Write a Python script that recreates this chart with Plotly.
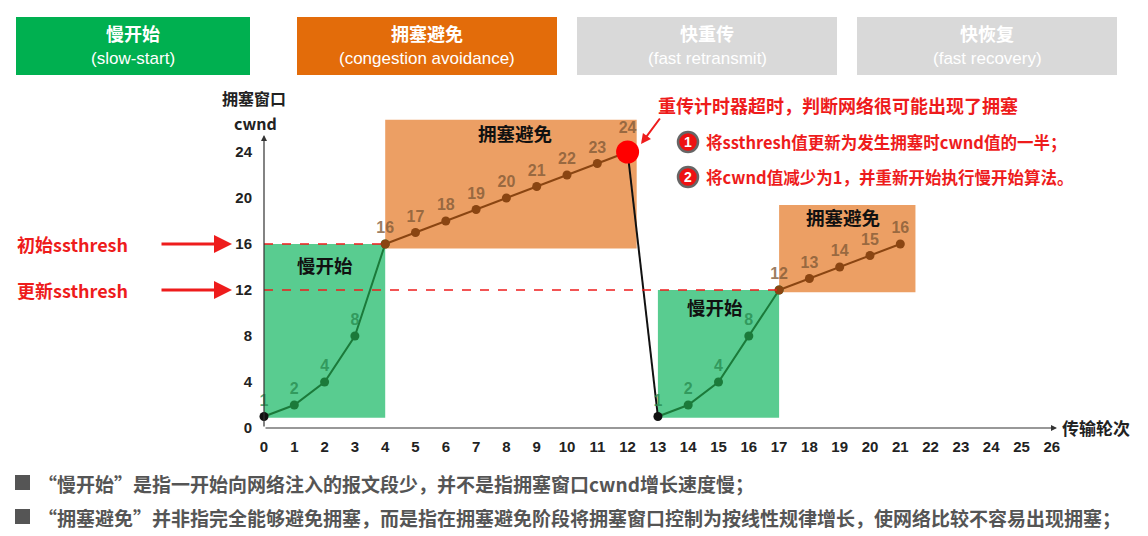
import plotly.graph_objects as go

# transmission rounds / cwnd values for each phase
rounds_ss1 = [0, 1, 2, 3, 4]
cwnd_ss1 = [1, 2, 4, 8, 16]
rounds_ca1 = [4, 5, 6, 7, 8, 9, 10, 11, 12]
cwnd_ca1 = [16, 17, 18, 19, 20, 21, 22, 23, 24]
rounds_ss2 = [13, 14, 15, 16, 17]
cwnd_ss2 = [1, 2, 4, 8, 12]
rounds_ca2 = [17, 18, 19, 20, 21]
cwnd_ca2 = [12, 13, 14, 15, 16]
ssthresh_init = 16
ssthresh_new = 12
x_ticks = list(range(27))
y_ticks = [0, 4, 8, 12, 16, 20, 24]

W, H = 1148, 536
X0, Y0 = 264, 428      # pixel of origin
SX, SY = 30.3, 11.5    # pixels per unit


def dx(p):
    return (p - X0) / SX


def dy(p):
    return (Y0 - p) / SY


CJK = "Noto Sans CJK SC"
NARROW = "Liberation Sans Narrow, Liberation Sans, Arial"
GREEN_BOX = "rgba(60,195,125,0.85)"
ORANGE_BOX = "rgba(233,146,78,0.88)"
GREEN_LINE = "#1b7a3a"
BROWN_LINE = "#8a4512"

fig = go.Figure()

# phase rectangles
fig.add_shape(type="rect", x0=rounds_ss1[0], x1=rounds_ss1[-1], y0=cwnd_ss1[0] - 0.1, y1=cwnd_ss1[-1],
              fillcolor=GREEN_BOX, line_width=0, layer="below")
fig.add_shape(type="rect", x0=rounds_ca1[0], x1=rounds_ca1[-1] + 0.3, y0=cwnd_ca1[0] - 0.4, y1=cwnd_ca1[-1] + 2.8,
              fillcolor=ORANGE_BOX, line_width=0, layer="below")
fig.add_shape(type="rect", x0=rounds_ss2[0], x1=rounds_ss2[-1], y0=cwnd_ss2[0] - 0.1, y1=cwnd_ss2[-1],
              fillcolor=GREEN_BOX, line_width=0, layer="below")
fig.add_shape(type="rect", x0=rounds_ca2[0], x1=rounds_ca2[-1] + 0.5, y0=cwnd_ca2[0] - 0.2, y1=cwnd_ca2[-1] + 3.4,
              fillcolor=ORANGE_BOX, line_width=0, layer="below")

# ssthresh dashed lines
fig.add_shape(type="line", x0=0, x1=rounds_ss1[-1], y0=ssthresh_init, y1=ssthresh_init,
              line=dict(color="#ee1c1c", width=1.5, dash="dash"))
fig.add_shape(type="line", x0=0, x1=rounds_ss2[-1], y0=ssthresh_new, y1=ssthresh_new,
              line=dict(color="#ee1c1c", width=1.5, dash="dash"))

lbl_green = dict(family=NARROW, size=16, color="rgba(40,140,80,0.8)", weight="bold")
lbl_brown = dict(family=NARROW, size=16, color="rgba(130,90,55,0.8)", weight="bold")

fig.add_trace(go.Scatter(
    x=rounds_ss1, y=cwnd_ss1, mode="lines+markers+text",
    text=[str(v) for v in cwnd_ss1[:-1]] + [""], textposition="top center", textfont=lbl_green,
    line=dict(color=GREEN_LINE, width=2),
    marker=dict(size=9, color=["#111"] + [GREEN_LINE] * 4), cliponaxis=False))
fig.add_trace(go.Scatter(
    x=rounds_ca1, y=cwnd_ca1, mode="lines+markers+text",
    text=[str(v) for v in cwnd_ca1[:-1]] + [""], textposition="top center", textfont=lbl_brown,
    line=dict(color=BROWN_LINE, width=2),
    marker=dict(size=9, color=BROWN_LINE), cliponaxis=False))
fig.add_trace(go.Scatter(
    x=[rounds_ca1[-1], rounds_ss2[0]], y=[cwnd_ca1[-1], cwnd_ss2[0]], mode="lines",
    line=dict(color="#111", width=2)))
fig.add_trace(go.Scatter(
    x=rounds_ss2, y=cwnd_ss2, mode="lines+markers+text",
    text=[str(v) for v in cwnd_ss2[:-1]] + [""], textposition="top center", textfont=lbl_green,
    line=dict(color=GREEN_LINE, width=2),
    marker=dict(size=9, color=["#111"] + [GREEN_LINE] * 4), cliponaxis=False))
fig.add_trace(go.Scatter(
    x=rounds_ca2, y=cwnd_ca2, mode="lines+markers+text",
    text=[str(v) for v in cwnd_ca2], textposition="top center", textfont=lbl_brown,
    line=dict(color=BROWN_LINE, width=2),
    marker=dict(size=9, color=BROWN_LINE), cliponaxis=False))
fig.add_trace(go.Scatter(
    x=[rounds_ca1[-1]], y=[cwnd_ca1[-1]], mode="markers+text",
    text=[str(cwnd_ca1[-1])], textposition="top center", textfont=lbl_brown,
    marker=dict(size=23, color="#ff0000"), cliponaxis=False))

ann = []

# axis arrows and titles
ann.append(dict(x=0, y=dy(135), ax=0, ay=0, axref="x", ayref="y", showarrow=True,
                arrowhead=2, arrowsize=1, arrowwidth=1.2, arrowcolor="#333", text=""))
ann.append(dict(x=dx(1057), y=0, ax=0, ay=0, axref="x", ayref="y", showarrow=True,
                arrowhead=2, arrowsize=1, arrowwidth=1.2, arrowcolor="#333", text=""))
ann.append(dict(x=dx(254), y=dy(98), text="拥塞窗口", showarrow=False,
                font=dict(family=CJK, size=16, color="#222", weight="bold")))
ann.append(dict(x=dx(255), y=dy(123), text="cwnd", showarrow=False,
                font=dict(family=CJK, size=16, color="#222", weight="bold")))
ann.append(dict(x=dx(1060), y=dy(427), text="传输轮次", showarrow=False, xanchor="left",
                font=dict(family=CJK, size=17, color="#222", weight="bold")))

# phase labels inside rectangles
for px_, py_, t in [(325, 265, "慢开始"), (515, 133, "拥塞避免"), (715, 307, "慢开始"), (843, 217, "拥塞避免")]:
    ann.append(dict(x=dx(px_), y=dy(py_), text=t, showarrow=False,
                    font=dict(family=CJK, size=18.5, color="#111", weight="bold")))

# ssthresh labels with arrows
red_font = dict(family=CJK, size=18, color="#ee1c1c", weight="bold")
for val, t in [(ssthresh_init, "初始ssthresh"), (ssthresh_new, "更新ssthresh")]:
    ann.append(dict(x=dx(72), y=val, text=t, showarrow=False, font=red_font))
    ann.append(dict(x=dx(232), y=val, ax=dx(160), ay=val, axref="x", ayref="y", text="",
                    showarrow=True, arrowhead=2, arrowsize=1.2, arrowwidth=3, arrowcolor="#ee1c1c"))

# timeout notes
ann.append(dict(x=dx(656), y=dy(105), text="重传计时器超时，判断网络很可能出现了拥塞", showarrow=False,
                xanchor="left", font=dict(family=CJK, size=18, color="#ee1c1c", weight="bold")))
ann.append(dict(x=dx(641), y=dy(144), ax=dx(661), ay=dy(117), axref="x", ayref="y", text="",
                showarrow=True, arrowhead=2, arrowsize=1, arrowwidth=2, arrowcolor="#ee1c1c"))
for py_, num, t in [(142, "1", "将ssthresh值更新为发生拥塞时cwnd值的一半；"),
                    (177, "2", "将cwnd值减少为1，并重新开始执行慢开始算法。")]:
    fig.add_shape(type="circle", xsizemode="pixel", ysizemode="pixel", xanchor=dx(688), yanchor=dy(py_),
                  x0=-10, x1=10, y0=-10, y1=10, fillcolor="#ee1111", line=dict(color="#666", width=2.5))
    ann.append(dict(x=dx(688), y=dy(py_), text=num, showarrow=False,
                    font=dict(family="Liberation Sans", size=14, color="white", weight="bold")))
    ann.append(dict(x=dx(704), y=dy(py_), text=t, showarrow=False, xanchor="left",
                    font=dict(family=CJK, size=16.5, color="#ee1c1c", weight="bold")))

# bottom notes
grey_font = dict(family=CJK, size=19, color="#555", weight="bold")
for py_, t in [(483, "“慢开始”是指一开始向网络注入的报文段少，并不是指拥塞窗口cwnd增长速度慢；"),
               (517, "“拥塞避免”并非指完全能够避免拥塞，而是指在拥塞避免阶段将拥塞窗口控制为按线性规律增长，使网络比较不容易出现拥塞；")]:
    fig.add_shape(type="rect", xref="paper", yref="paper", x0=15 / W, x1=30 / W,
                  y0=1 - (py_ + 7) / H, y1=1 - (py_ - 8) / H, fillcolor="#555", line_width=0)
    ann.append(dict(x=dx(36), y=dy(py_), text=t, showarrow=False, xanchor="left", font=grey_font))

# top banners
banners = [(16, 250, "#00b050", "慢开始", "(slow-start)"),
           (297, 557, "#e36c0a", "拥塞避免", "(congestion avoidance)"),
           (577, 837, "#d9d9d9", "快重传", "(fast retransmit)"),
           (857, 1117, "#d9d9d9", "快恢复", "(fast recovery)")]
for x0, x1, col, zh, en in banners:
    fig.add_shape(type="rect", xref="paper", yref="paper", x0=x0 / W, x1=x1 / W,
                  y0=1 - 75 / H, y1=1 - 17 / H, fillcolor=col, line_width=0)
    ann.append(dict(xref="paper", yref="paper", x=(x0 + x1) / 2 / W, y=1 - 33 / H, text=zh, showarrow=False,
                    xanchor="center", yanchor="middle",
                    font=dict(family=CJK, size=18, color="white", weight="bold")))
    ann.append(dict(xref="paper", yref="paper", x=(x0 + x1) / 2 / W, y=1 - 58 / H, text=en, showarrow=False,
                    xanchor="center", yanchor="middle",
                    font=dict(family=NARROW, size=17, color="white")))

fig.update_layout(
    width=W, height=H, margin=dict(l=0, r=0, t=0, b=0),
    paper_bgcolor="white", plot_bgcolor="white", showlegend=False,
    annotations=ann,
    xaxis=dict(range=[dx(0), dx(W)], tickvals=x_ticks, anchor="free", position=(H - Y0) / H,
               showgrid=False, zeroline=False, showline=False, ticks="", ticklabelstandoff=8,
               tickfont=dict(family=NARROW, size=15, color="#222", weight="bold")),
    yaxis=dict(range=[dy(H), dy(0)], tickvals=y_ticks, anchor="free", position=X0 / W,
               showgrid=False, zeroline=False, showline=False, ticks="", ticklabelstandoff=12,
               tickfont=dict(family=NARROW, size=15, color="#222", weight="bold")),
)

fig.write_html("out.html", config={"displayModeBar": False},
               post_script="document.body.style.margin='0';document.body.style.overflow='hidden';")
